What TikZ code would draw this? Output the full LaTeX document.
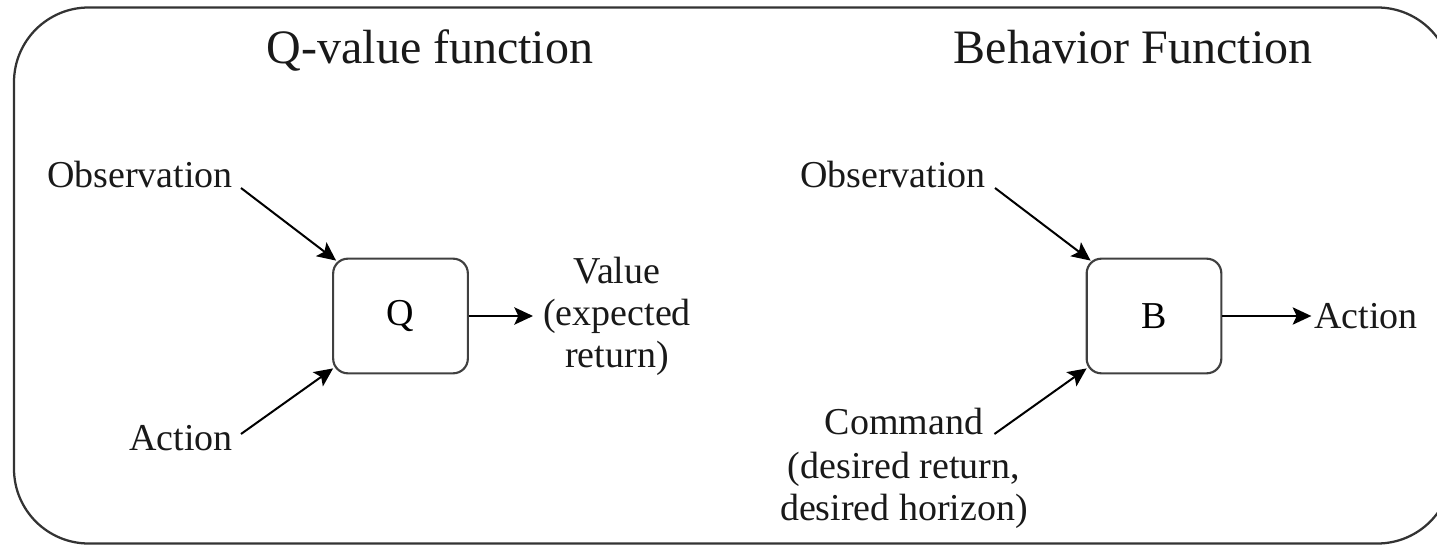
\documentclass[tikz,border=0pt]{standalone}
\usepackage{fontspec}
\setmainfont{Liberation Serif}
\usetikzlibrary{arrows.meta,calc}
\begin{document}
\begin{tikzpicture}[x=0.75pt,y=-0.75pt,
  lbl/.style={inner sep=0pt,font=\fontsize{28.5}{31.5}\selectfont,text=black!90},
  ttl/.style={inner sep=0pt,font=\fontsize{36}{40}\selectfont,text=black!90},
  fbox/.style={draw=black!75,line width=1.6pt,rounded corners=11pt,minimum width=101pt,minimum height=86pt,inner sep=0pt,font=\fontsize{28.5}{31.5}\selectfont},
  arr/.style={draw=black,line width=1.5pt,-{Stealth[length=14pt,width=13pt,inset=3pt]}},
  frame/.style={draw=black!80,line width=1.7pt,rounded corners=56pt}]
\useasboundingbox (0,0) rectangle (1437,545);
\draw[frame] (14,7.5) rectangle (1452,543.5);
% titles
\node[ttl,anchor=base] (t1) at (430,64) {Q-value function};
\node[ttl,anchor=base] (t2) at (1133,64) {Behavior Function};
% boxes
\node[fbox] (q) at (400.5,316) {Q};
\node[fbox] (b) at (1154,316) {B};
% left labels
\node[lbl,anchor=base east] (obs1) at (233,188) {Observation};
\node[lbl,anchor=base east] (act1) at (233,450) {Action};
\node[lbl,align=center,anchor=base] (val) at (617,367) {Value\\(expected\\return)};
% right labels
\node[lbl,anchor=base east] (obs2) at (986,188) {Observation};
\node[lbl,anchor=base] (cmd) at (904,434) {Command};
\node[lbl,align=center,anchor=base] (cmdd) at (904,520) {(desired return,\\desired horizon)};
\node[lbl,anchor=west] (act2) at (1314,316) {Action};
% arrows
\draw[arr] ([shift={(8,0)}]obs1.base east) -- ([shift={(4,3)}]q.north west);
\draw[arr] ([shift={(8,-16)}]act1.base east) -- ([shift={(1,-6)}]q.south west);
\draw[arr] (q.east) -- (533,316) coordinate (qv);
\draw[arr] ([shift={(9,0)}]obs2.base east) -- ([shift={(5,3)}]b.north west);
\draw[arr] ([shift={(11,0)}]cmd.base east) -- ([shift={(1,-6)}]b.south west);
\draw[arr] (b.east) -- ([xshift=-2pt]b.east -| act2.west);
\end{tikzpicture}
\end{document}
